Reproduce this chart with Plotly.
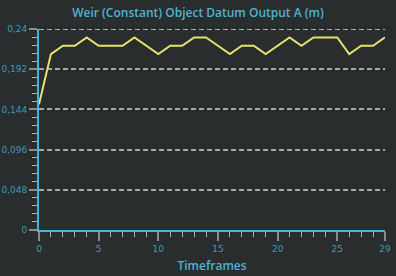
import plotly.graph_objects as go

timeframes = list(range(30))
values = [0.15, 0.21, 0.22, 0.22, 0.23, 0.22, 0.22, 0.22, 0.23, 0.22,
          0.21, 0.22, 0.22, 0.23, 0.23, 0.22, 0.21, 0.22, 0.22, 0.21,
          0.22, 0.23, 0.22, 0.23, 0.23, 0.23, 0.21, 0.22, 0.22, 0.23]
x_ticks = [0, 5, 10, 15, 20, 25, 29]
y_ticks = [0, 0.048, 0.096, 0.144, 0.192, 0.24]
y_labels = ["0", "0,048", "0,096", "0,144", "0,192", "0,24"]
y_minor = [i * 0.0096 for i in range(26)]

BG = "#2a2d2d"
CYAN = "#4ab4d4"
TICKTXT = "#3a9cb6"

fig = go.Figure()
fig.add_trace(go.Scatter(x=timeframes, y=values, mode="lines",
                         line=dict(color="#e6e26a", width=2), cliponaxis=False))

# top gridline (Plotly drops gridlines on the plot edge)
fig.add_shape(type="line", xref="paper", x0=0, x1=1, yref="y",
              y0=y_ticks[-1], y1=y_ticks[-1], layer="below",
              line=dict(color="#d8d8d8", width=1.5, dash="5px,3px"))

fig.update_layout(
    width=396, height=276, paper_bgcolor=BG, plot_bgcolor=BG,
    margin=dict(l=39, r=11, t=29, b=46, autoexpand=False),
    showlegend=False,
    title=dict(text="Weir (Constant) Object Datum Output A (m)",
               x=0.5, xref="container", xanchor="center",
               y=0.952, yref="container", yanchor="middle",
               font=dict(family="Open Sans", size=12, color=CYAN, weight=600)),
    font=dict(family="DejaVu Sans", size=9, color=TICKTXT),
)
fig.update_xaxes(
    range=[0, 29], showgrid=False, zeroline=False, automargin=False,
    showline=True, linecolor=CYAN, linewidth=2,
    tickmode="array", tickvals=x_ticks,
    ticks="outside", ticklen=9, tickwidth=2, tickcolor="#8c8c8c",
    tickfont=dict(family="DejaVu Sans", size=9, color=TICKTXT),
    minor=dict(tickmode="array", tickvals=timeframes, ticks="outside",
               ticklen=5, tickwidth=1, tickcolor="#b4b4b4", showgrid=False),
    title=dict(text="Timeframes", standoff=9,
               font=dict(family="Open Sans", size=12, color=CYAN, weight=600)),
)
fig.update_yaxes(
    range=[0, 0.24], zeroline=False, automargin=False,
    showline=True, linecolor=CYAN, linewidth=2,
    tickmode="array", tickvals=y_ticks, ticktext=y_labels,
    ticks="outside", ticklen=8, tickwidth=2, tickcolor="#8c8c8c",
    tickfont=dict(family="DejaVu Sans", size=9, color=TICKTXT),
    showgrid=True, gridcolor="#a8a8a8", gridwidth=1.5, griddash="5px,3px",
    minor=dict(tickmode="array", tickvals=y_minor, ticks="outside",
               ticklen=5, tickwidth=1, tickcolor="#b4b4b4", showgrid=False),
)
fig.write_html("out.html")
